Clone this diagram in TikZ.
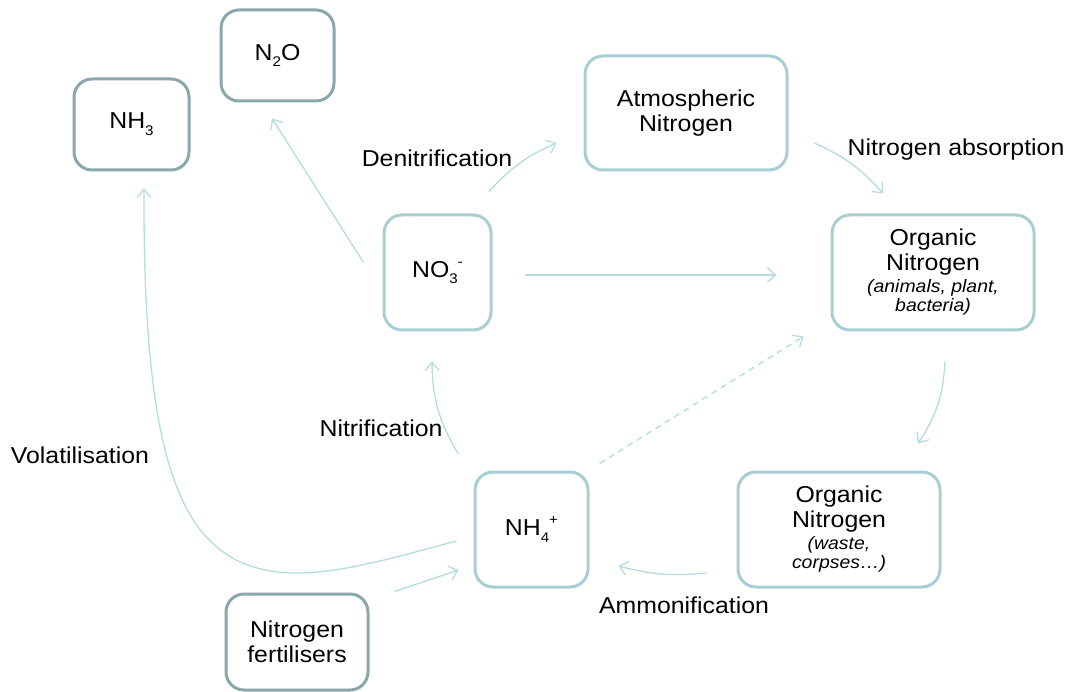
\documentclass[tikz,border=0pt]{standalone}
\usepackage{fontspec}
\setmainfont{Liberation Sans}[FakeStretch=1.08]
\usetikzlibrary{arrows.meta,calc}
\definecolor{boxdark}{HTML}{8AA8AB}
\definecolor{boxlight}{HTML}{A8CED3}
\definecolor{arr}{HTML}{B3DCE1}
\newcommand\lowsub[1]{\raisebox{-0.3em}{\fontsize{14}{14}\selectfont #1}}
\newcommand\highsup[1]{\raisebox{0.45em}{\fontsize{14}{14}\selectfont #1}}
\begin{document}
\begin{tikzpicture}[x=1pt,y=-1pt,
  base/.style={rectangle,rounded corners=18pt,line width=3pt,align=center,
    font=\fontsize{23}{25}\selectfont,inner sep=0pt},
  darkbox/.style={base,draw=boxdark},
  lightbox/.style={base,draw=boxlight},
  lbl/.style={font=\fontsize{23}{25}\selectfont,inner sep=0pt},
  flow/.style={draw=arr,line width=1.3pt,-{Straight Barb[length=8pt,width=14pt,line width=1.3pt]}}]
\useasboundingbox (0,0) rectangle (1076,692);

\node[darkbox,minimum width=115pt,minimum height=91pt] (nh3) at (131.5,124.5) {NH\lowsub{3}};
\node[darkbox,minimum width=113pt,minimum height=91pt] (n2o) at (277.5,55.5) {N\lowsub{2}O};
\node[lightbox,minimum width=202pt,minimum height=114pt] (atm) at (686,113) {Atmospheric\\Nitrogen};
\node[lightbox,minimum width=107pt,minimum height=115pt] (no3) at (437.5,272.5) {NO\lowsub{3}\highsup{-}};
\node[lightbox,minimum width=202pt,minimum height=115pt] (orga) at (933,272.5)
  {Organic\\Nitrogen\\[-3pt]{\fontsize{18}{18}\selectfont\itshape (animals, plant,}\\[-6pt]{\fontsize{18}{18}\selectfont\itshape bacteria)}};
\node[lightbox,minimum width=113pt,minimum height=115pt] (nh4) at (531.5,529.5) {NH\lowsub{4}\highsup{+}};
\node[lightbox,minimum width=202pt,minimum height=115pt] (orgw) at (839,529.5)
  {Organic\\Nitrogen\\[-3pt]{\fontsize{18}{18}\selectfont\itshape (waste,}\\[-6pt]{\fontsize{18}{18}\selectfont\itshape corpses\dots)}};
\node[darkbox,minimum width=142pt,minimum height=96pt] (fert) at (297,642) {Nitrogen\\fertilisers};

\node[lbl] (ldenit) at (437,158) {Denitrification};
\node[lbl] (labs) at (956,150) {Nitrogen absorption};
\node[lbl] (lnitr) at (381,428) {Nitrification};
\node[lbl] (lvol) at (80,455) {Volatilisation};
\node[lbl] (lamm) at (684,605) {Ammonification};

% connectors
\draw[flow] ([shift={(-19,-10)}]no3.west) -- ([shift={(-5.5,16)}]n2o.south);
\draw[flow] ([shift={(51.5,-22)}]no3.north) to[bend left=12] ([shift={(-27,30)}]atm.west);
\draw[flow] ([shift={(26,30)}]atm.east) to[bend left=12] ([shift={(-50,-20)}]orga.north);
\draw[flow] ([shift={(32,2.5)}]no3.east) -- ([shift={(-54,2.5)}]orga.west);
\draw[flow] ([shift={(12,30)}]orga.south) to[bend left=15] ([shift={(79,-27)}]orgw.north);
\draw[flow] ([shift={(-30,43.5)}]orgw.west) to[bend left=10] ([shift={(29,36.5)}]nh4.east);
\draw[flow] ([shift={(-73.5,-17)}]nh4.north) to[bend left=15] ([shift={(-5.5,30)}]no3.south);
\draw[flow,dashed,dash pattern=on 6pt off 5pt] ([shift={(10,-7)}]nh4.north east) -- ([shift={(-27,5)}]orga.south west);
\draw[flow] ([shift={(-17,11.5)}]nh4.west) .. controls (400,556) and (340,574) .. (293,573)
  .. controls (185,570) and (143,480) .. ([shift={(12.5,17)}]nh3.south);
\draw[flow] ([shift={(25,-1)}]fert.north east) -- ([shift={(-15,40.5)}]nh4.west);
\end{tikzpicture}
\end{document}
